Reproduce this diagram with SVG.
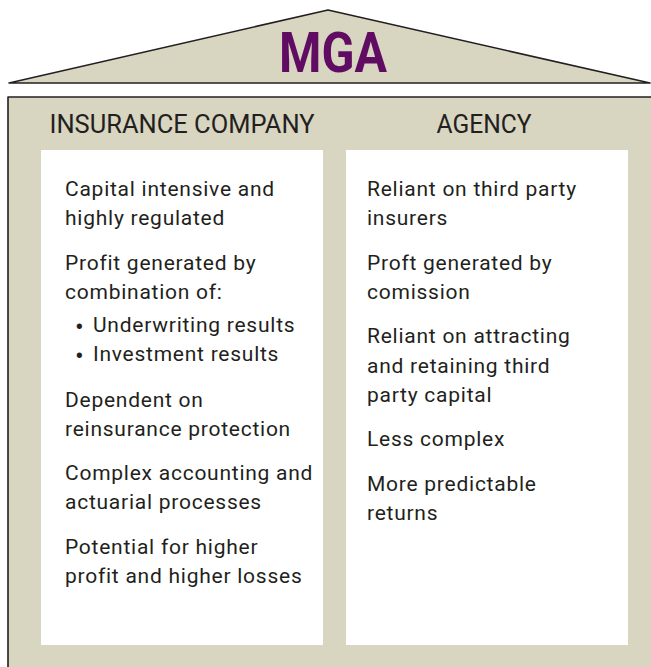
<svg xmlns="http://www.w3.org/2000/svg" width="651" height="667" viewBox="0 0 651 667">
  <style>
    .frame { fill: #d8d5c1; stroke: #231f20; stroke-width: 1.6; stroke-linejoin: round; }
    .panel { fill: #ffffff; }
    .head { font-family: Roboto, "Liberation Sans", sans-serif; font-size: 25px; fill: #231f20; }
    .body { font-family: Roboto, "Liberation Sans", sans-serif; font-size: 21px; letter-spacing: 0.75px; fill: #231f20; }
    .dot { font-size: 26px; }
    .title { font-family: Roboto, "Liberation Sans", sans-serif; font-size: 55px; font-weight: bold; fill: #600c63; }
  </style>
  <rect width="651" height="667" fill="#ffffff"/>

  <!-- roof -->
  <g id="roof">
    <path class="frame" d="M9 83 L328 10 L650 83 Z"/>
    <text class="title" x="333" y="72" text-anchor="middle" textLength="108" lengthAdjust="spacingAndGlyphs">MGA</text>
  </g>

  <!-- building body -->
  <g id="building">
    <rect class="frame" x="8" y="97" width="660" height="600"/>
    <text class="head" x="182" y="133" text-anchor="middle" textLength="265" lengthAdjust="spacingAndGlyphs">INSURANCE COMPANY</text>
    <text class="head" x="484" y="133" text-anchor="middle" textLength="95" lengthAdjust="spacingAndGlyphs">AGENCY</text>
  </g>

  <!-- insurance company column -->
  <g id="insurance-company">
    <rect class="panel" x="41" y="150" width="282" height="495"/>
    <text class="body" x="65" y="196">Capital intensive and</text>
    <text class="body" x="65" y="225">highly regulated</text>
    <text class="body" x="65" y="270">Profit generated by</text>
    <text class="body" x="65" y="299">combination of:</text>
    <text class="body dot" x="75" y="336">•</text>
    <text class="body" x="93" y="332">Underwriting results</text>
    <text class="body dot" x="75" y="365">•</text>
    <text class="body" x="93" y="361">Investment results</text>
    <text class="body" x="65" y="407">Dependent on</text>
    <text class="body" x="65" y="436">reinsurance protection</text>
    <text class="body" x="65" y="480">Complex accounting and</text>
    <text class="body" x="65" y="509">actuarial processes</text>
    <text class="body" x="65" y="554">Potential for higher</text>
    <text class="body" x="65" y="583">profit and higher losses</text>
  </g>

  <!-- agency column -->
  <g id="agency">
    <rect class="panel" x="346" y="150" width="282" height="495"/>
    <text class="body" x="367" y="196">Reliant on third party</text>
    <text class="body" x="367" y="225">insurers</text>
    <text class="body" x="367" y="270">Proft generated by</text>
    <text class="body" x="367" y="299">comission</text>
    <text class="body" x="367" y="343">Reliant on attracting</text>
    <text class="body" x="367" y="373">and retaining third</text>
    <text class="body" x="367" y="402">party capital</text>
    <text class="body" x="367" y="446">Less complex</text>
    <text class="body" x="367" y="491">More predictable</text>
    <text class="body" x="367" y="520">returns</text>
  </g>

  <!-- connectors: none -->
  <g id="connectors"/>
</svg>
